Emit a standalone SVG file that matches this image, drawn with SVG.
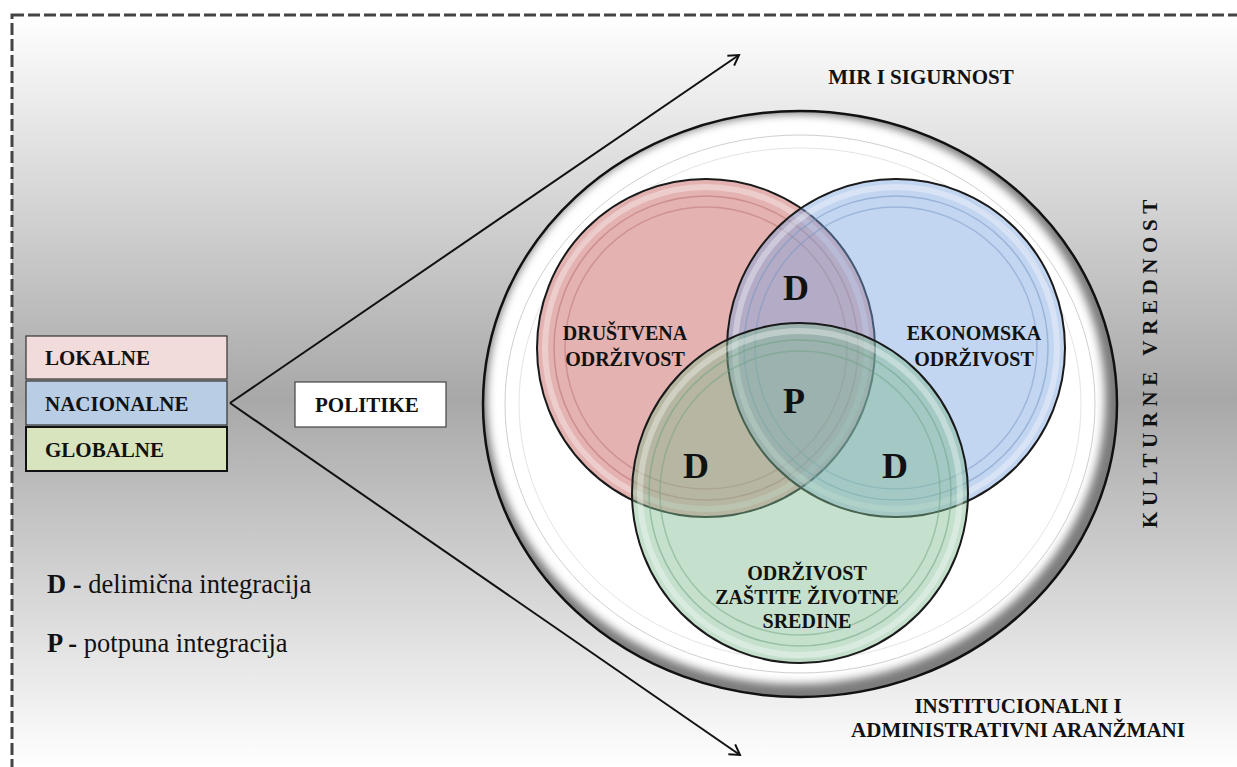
<svg xmlns="http://www.w3.org/2000/svg" width="1237" height="767" viewBox="0 0 1237 767">
  <defs>
    <linearGradient id="bg" gradientUnits="userSpaceOnUse" x1="0" y1="15" x2="0" y2="767">
      <stop offset="0" stop-color="#ffffff"/>
      <stop offset="0.51" stop-color="#a8a8a8"/>
      <stop offset="1" stop-color="#ffffff"/>
    </linearGradient>
    <filter id="soft" x="-5%" y="-5%" width="110%" height="110%">
      <feGaussianBlur stdDeviation="4"/>
    </filter>
    <clipPath id="outerClip">
      <ellipse cx="800" cy="404" rx="317" ry="293"/>
    </clipPath>
    <marker id="arrow" markerUnits="userSpaceOnUse" markerWidth="16" markerHeight="16" refX="13" refY="8" orient="auto">
      <path d="M3,2 L13,8 L3,14" fill="none" stroke="#111" stroke-width="2"/>
    </marker>
    <style>
      text { font-family: 'Liberation Serif', Tinos, 'Times New Roman', 'DejaVu Serif', serif; }
      .lbl { font-weight: bold; fill: #111; }
      .box { stroke: #333; stroke-width: 1.2; }
      .mark { font-weight: bold; font-size: 36px; fill: #111; text-anchor: middle; }
      .vlabel { font-weight: bold; font-size: 20px; fill: #111; text-anchor: middle; }
      .edge { fill: none; stroke: #1a1a1a; stroke-width: 2; }
      .legend { font-size: 26.5px; fill: #111; }
    </style>
  </defs>

  <!-- framed background -->
  <rect x="0" y="0" width="1237" height="767" fill="#ffffff"/>
  <rect x="12" y="15" width="1240" height="770" fill="url(#bg)" stroke="#444" stroke-width="3" stroke-dasharray="12 4"/>

  <!-- connectors -->
  <g id="connectors" stroke="#111" stroke-width="2" fill="none">
    <line x1="230" y1="403" x2="739" y2="55" marker-end="url(#arrow)"/>
    <line x1="230" y1="403" x2="740" y2="755" marker-end="url(#arrow)"/>
  </g>

  <!-- policy level boxes -->
  <g id="box-lokalne">
    <rect class="box" x="26" y="336" width="201" height="43" fill="#f2dcdb"/>
    <text class="lbl" x="45" y="365" font-size="21">LOKALNE</text>
  </g>
  <g id="box-nacionalne">
    <rect class="box" x="26" y="381" width="201" height="44" fill="#b9cde5"/>
    <text class="lbl" x="45" y="411" font-size="21">NACIONALNE</text>
  </g>
  <g id="box-globalne">
    <rect x="26" y="427" width="201" height="44" fill="#d7e4bd" stroke="#111" stroke-width="2"/>
    <text class="lbl" x="45" y="457" font-size="21">GLOBALNE</text>
  </g>
  <g id="box-politike">
    <rect x="295" y="382" width="151" height="45" fill="#ffffff" stroke="#444" stroke-width="1.2"/>
    <text class="lbl" x="315" y="412" font-size="21">POLITIKE</text>
  </g>

  <!-- outer context ring -->
  <g id="outer-ring">
    <ellipse cx="800" cy="404" rx="317" ry="293" fill="#7c7c7c"/>
    <g clip-path="url(#outerClip)">
      <ellipse cx="796" cy="399" rx="309" ry="285" fill="#ffffff" filter="url(#soft)"/>
    </g>
    <ellipse cx="800" cy="404" rx="317" ry="293" fill="none" stroke="#111" stroke-width="2.5"/>
    <ellipse cx="800" cy="404" rx="295" ry="269" fill="none" stroke="#cfcfcf" stroke-width="1"/>
    <ellipse cx="800" cy="404" rx="281" ry="256" fill="none" stroke="#e4e4e4" stroke-width="1"/>
  </g>

  <!-- sustainability circles -->
  <g id="circle-drustvena">
    <circle cx="706" cy="348" r="169" fill="#bd4c4a" fill-opacity="0.43"/>
    <circle cx="706" cy="348" r="161" fill="none" stroke="#ffffff" stroke-opacity="0.35" stroke-width="6"/>
    <circle cx="706" cy="348" r="152" fill="none" stroke="#b86a6a" stroke-opacity="0.5" stroke-width="1.5"/>
    <circle cx="706" cy="348" r="141" fill="none" stroke="#b86a6a" stroke-opacity="0.45" stroke-width="1.5"/>
    <circle class="edge" cx="706" cy="348" r="169"/>
  </g>
  <g id="circle-ekonomska">
    <circle cx="896" cy="348" r="169" fill="#7aa3e0" fill-opacity="0.45"/>
    <circle cx="896" cy="348" r="161" fill="none" stroke="#ffffff" stroke-opacity="0.35" stroke-width="6"/>
    <circle cx="896" cy="348" r="152" fill="none" stroke="#6f93c0" stroke-opacity="0.5" stroke-width="1.5"/>
    <circle cx="896" cy="348" r="141" fill="none" stroke="#6f93c0" stroke-opacity="0.45" stroke-width="1.5"/>
    <circle class="edge" cx="896" cy="348" r="169"/>
  </g>
  <g id="circle-zivotna">
    <ellipse cx="800" cy="493" rx="168" ry="170" fill="#7eba90" fill-opacity="0.45"/>
    <ellipse cx="800" cy="493" rx="160" ry="162" fill="none" stroke="#ffffff" stroke-opacity="0.35" stroke-width="6"/>
    <ellipse cx="800" cy="493" rx="151" ry="153" fill="none" stroke="#6a9f80" stroke-opacity="0.5" stroke-width="1.5"/>
    <ellipse cx="800" cy="493" rx="140" ry="142" fill="none" stroke="#6a9f80" stroke-opacity="0.45" stroke-width="1.5"/>
    <ellipse class="edge" cx="800" cy="493" rx="168" ry="170"/>
  </g>

  <!-- circle and region labels -->
  <g id="label-drustvena">
    <text class="vlabel" x="625" y="340">DRUŠTVENA</text>
    <text class="vlabel" x="625" y="366">ODRŽIVOST</text>
  </g>
  <g id="label-ekonomska">
    <text class="vlabel" x="974" y="340">EKONOMSKA</text>
    <text class="vlabel" x="974" y="366">ODRŽIVOST</text>
  </g>
  <g id="label-zivotna">
    <text class="vlabel" x="807" y="580">ODRŽIVOST</text>
    <text class="vlabel" x="807" y="604">ZAŠTITE ŽIVOTNE</text>
    <text class="vlabel" x="807" y="628">SREDINE</text>
  </g>
  <g id="region-marks">
    <text class="mark" x="796" y="300">D</text>
    <text class="mark" x="794" y="413">P</text>
    <text class="mark" x="696" y="478">D</text>
    <text class="mark" x="895" y="478">D</text>
  </g>

  <!-- surrounding context labels -->
  <g id="label-mir">
    <text class="lbl" x="921" y="84" font-size="21" text-anchor="middle">MIR I SIGURNOST</text>
  </g>
  <g id="label-institucionalni">
    <text class="lbl" x="1018" y="713" font-size="21" text-anchor="middle">INSTITUCIONALNI I</text>
    <text class="lbl" x="1018" y="737" font-size="21" text-anchor="middle">ADMINISTRATIVNI ARANŽMANI</text>
  </g>
  <g id="label-kulturne">
    <text class="lbl" transform="translate(1157,528) rotate(-90)" font-size="21" letter-spacing="5.6">KULTURNE VREDNOST</text>
  </g>

  <!-- legend -->
  <g id="legend">
    <text class="legend" x="47" y="593"><tspan font-weight="bold">D -</tspan> delimična integracija</text>
    <text class="legend" x="47" y="652"><tspan font-weight="bold">P -</tspan> potpuna integracija</text>
  </g>
</svg>
